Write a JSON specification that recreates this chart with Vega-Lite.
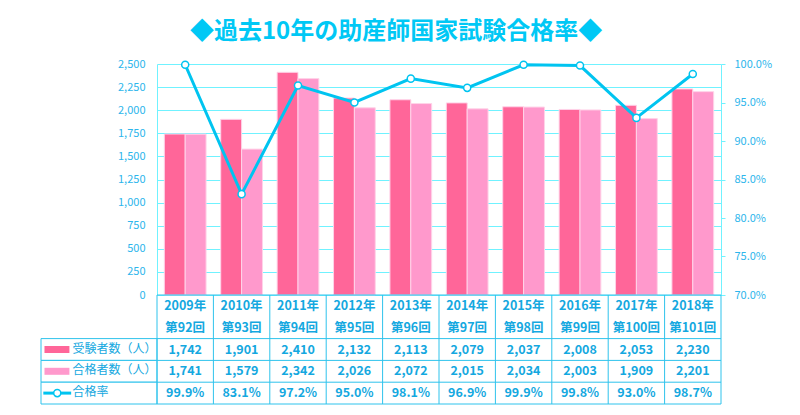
{
  "$schema": "https://vega.github.io/schema/vega-lite/v6.json",
  "background": "white",
  "padding": {"left": 40, "top": 20, "right": 5, "bottom": 5},
  "config": {
    "view": {"stroke": null},
    "font": "Noto Sans CJK JP",
    "axis": {"labelFont": "Noto Sans CJK JP"}
  },
  "datasets": {
    "years": [
      {"year": "2009年", "kai": "第92回", "rate": 0.999},
      {"year": "2010年", "kai": "第93回", "rate": 0.831},
      {"year": "2011年", "kai": "第94回", "rate": 0.972},
      {"year": "2012年", "kai": "第95回", "rate": 0.950},
      {"year": "2013年", "kai": "第96回", "rate": 0.981},
      {"year": "2014年", "kai": "第97回", "rate": 0.969},
      {"year": "2015年", "kai": "第98回", "rate": 0.999},
      {"year": "2016年", "kai": "第99回", "rate": 0.998},
      {"year": "2017年", "kai": "第100回", "rate": 0.930},
      {"year": "2018年", "kai": "第101回", "rate": 0.987}
    ],
    "counts": [
      {"year": "2009年", "series": "受験者数（人）", "value": 1742},
      {"year": "2009年", "series": "合格者数（人）", "value": 1741},
      {"year": "2010年", "series": "受験者数（人）", "value": 1901},
      {"year": "2010年", "series": "合格者数（人）", "value": 1579},
      {"year": "2011年", "series": "受験者数（人）", "value": 2410},
      {"year": "2011年", "series": "合格者数（人）", "value": 2342},
      {"year": "2012年", "series": "受験者数（人）", "value": 2132},
      {"year": "2012年", "series": "合格者数（人）", "value": 2026},
      {"year": "2013年", "series": "受験者数（人）", "value": 2113},
      {"year": "2013年", "series": "合格者数（人）", "value": 2072},
      {"year": "2014年", "series": "受験者数（人）", "value": 2079},
      {"year": "2014年", "series": "合格者数（人）", "value": 2015},
      {"year": "2015年", "series": "受験者数（人）", "value": 2037},
      {"year": "2015年", "series": "合格者数（人）", "value": 2034},
      {"year": "2016年", "series": "受験者数（人）", "value": 2008},
      {"year": "2016年", "series": "合格者数（人）", "value": 2003},
      {"year": "2017年", "series": "受験者数（人）", "value": 2053},
      {"year": "2017年", "series": "合格者数（人）", "value": 1909},
      {"year": "2018年", "series": "受験者数（人）", "value": 2230},
      {"year": "2018年", "series": "合格者数（人）", "value": 2201}
    ],
    "rows": [
      {"row": "受験者数（人）"},
      {"row": "合格者数（人）"},
      {"row": "合格率"}
    ]
  },
  "title": {
    "text": "◆過去10年の助産師国家試験合格率◆",
    "fontSize": 24,
    "fontWeight": "bold",
    "color": "#00C8F5",
    "anchor": "middle",
    "offset": 14,
    "dx": -10
  },
  "bounds": "flush",
  "spacing": 0,
  "columns": 2,
  "concat": [
    {
      "width": 116,
      "height": 231,
      "data": {"name": "rows"},
      "mark": {"type": "point", "opacity": 0},
      "encoding": {}
    },
    {
      "width": 564,
      "height": 231,
      "resolve": {"scale": {"y": "independent"}},
      "layer": [
        {
          "data": {"name": "counts"},
          "mark": {"type": "bar", "stroke": "#FFD3E8", "strokeWidth": 1},
          "encoding": {
            "x": {
              "field": "year", "type": "nominal", "sort": null,
              "scale": {"type": "band", "paddingInner": 0.26, "paddingOuter": 0.13},
              "axis": null
            },
            "xOffset": {
              "field": "series", "type": "nominal",
              "scale": {"domain": ["受験者数（人）", "合格者数（人）"], "paddingInner": 0, "paddingOuter": 0}
            },
            "y": {
              "field": "value", "type": "quantitative",
              "scale": {"domain": [0, 2500], "nice": false},
              "axis": {
                "values": [0, 250, 500, 750, 1000, 1250, 1500, 1750, 2000, 2250, 2500],
                "format": ",.0f",
                "grid": true,
                "gridColor": "#70F2FF",
                "gridWidth": 1,
                "ticks": false,
                "domain": true,
                "domainColor": "#70F2FF",
                "labelColor": "#2DB6EC",
                "labelFontSize": 11,
                "labelPadding": 12,
                "title": null
              }
            },
            "color": {
              "field": "series", "type": "nominal",
              "scale": {"domain": ["受験者数（人）", "合格者数（人）"], "range": ["#FF6699", "#FF99CC"]},
              "legend": null
            }
          }
        },
        {
          "data": {"name": "years"},
          "mark": {
            "type": "line",
            "color": "#00C4F0",
            "strokeWidth": 3,
            "point": {"filled": true, "fill": "white", "stroke": "#00C4F0", "strokeWidth": 1.5, "size": 50}
          },
          "encoding": {
            "x": {"field": "year", "type": "nominal", "sort": null},
            "y": {
              "field": "rate", "type": "quantitative",
              "scale": {"domain": [0.7, 1.0], "nice": false, "zero": false},
              "axis": {
                "orient": "right",
                "values": [0.7, 0.75, 0.8, 0.85, 0.9, 0.95, 1.0],
                "format": ".1%",
                "grid": false,
                "ticks": true,
                "tickSize": 4,
                "tickColor": "#70F2FF",
                "domain": true,
                "domainColor": "#70F2FF",
                "labelColor": "#2DB6EC",
                "labelFontSize": 11,
                "labelPadding": 9,
                "title": null
              }
            }
          }
        }
      ]
    },
    {
      "width": 116,
      "height": 109,
      "layer": [
        {
          "data": {"name": "rows"},
          "mark": {"type": "rect", "fill": "white", "stroke": "#2EC3EC", "strokeWidth": 1},
          "encoding": {
            "x": {"datum": 0, "type": "quantitative", "scale": {"domain": [0, 1]}, "axis": null},
            "x2": {"datum": 1},
            "y": {
              "field": "row", "type": "nominal",
              "scale": {"type": "band", "domain": ["h1", "h2", "受験者数（人）", "合格者数（人）", "合格率"], "paddingInner": 0, "paddingOuter": 0},
              "axis": null
            }
          }
        },
        {
          "data": {"name": "rows"},
          "transform": [{"filter": "datum.row === '受験者数（人）'"}],
          "mark": {"type": "rule", "color": "#FF6699", "strokeWidth": 7},
          "encoding": {
            "x": {"datum": 0.03, "type": "quantitative"},
            "x2": {"datum": 0.245},
            "y": {"field": "row", "type": "nominal"}
          }
        },
        {
          "data": {"name": "rows"},
          "transform": [{"filter": "datum.row === '合格者数（人）'"}],
          "mark": {"type": "rule", "color": "#FF99CC", "strokeWidth": 7},
          "encoding": {
            "x": {"datum": 0.03, "type": "quantitative"},
            "x2": {"datum": 0.245},
            "y": {"field": "row", "type": "nominal"}
          }
        },
        {
          "data": {"name": "rows"},
          "transform": [{"filter": "datum.row === '合格率'"}],
          "mark": {"type": "rule", "color": "#00C4F0", "strokeWidth": 3},
          "encoding": {
            "x": {"datum": 0.02, "type": "quantitative"},
            "x2": {"datum": 0.26},
            "y": {"field": "row", "type": "nominal"}
          }
        },
        {
          "data": {"name": "rows"},
          "transform": [{"filter": "datum.row === '合格率'"}],
          "mark": {"type": "point", "shape": "circle", "filled": true, "fill": "white", "stroke": "#00C4F0", "strokeWidth": 1.5, "size": 50, "opacity": 1},
          "encoding": {
            "x": {"datum": 0.14, "type": "quantitative"},
            "y": {"field": "row", "type": "nominal"}
          }
        },
        {
          "data": {"name": "rows"},
          "mark": {"type": "text", "align": "left", "baseline": "middle", "fontSize": 12, "color": "#14A8E0", "dy": -1},
          "encoding": {
            "x": {"datum": 0.272, "type": "quantitative"},
            "y": {"field": "row", "type": "nominal"},
            "text": {"field": "row"}
          }
        }
      ]
    },
    {
      "width": 564,
      "height": 109,
      "layer": [
        {
          "data": {"name": "years"},
          "mark": {"type": "rule", "color": "#2EC3EC", "strokeWidth": 1},
          "encoding": {
            "x": {
              "field": "year", "type": "nominal", "sort": null, "bandPosition": 0,
              "scale": {"type": "band", "paddingInner": 0, "paddingOuter": 0},
              "axis": null
            }
          }
        },
        {
          "data": {"name": "years"},
          "transform": [{"filter": "datum.year === '2018年'"}],
          "mark": {"type": "rule", "color": "#2EC3EC", "strokeWidth": 1},
          "encoding": {
            "x": {"field": "year", "type": "nominal", "sort": null, "bandPosition": 1}
          }
        },
        {
          "data": {"name": "rows"},
          "mark": {"type": "rule", "color": "#2EC3EC", "strokeWidth": 1},
          "encoding": {
            "y": {
              "field": "row", "type": "nominal", "bandPosition": 0,
              "scale": {"type": "band", "domain": ["h1", "h2", "受験者数（人）", "合格者数（人）", "合格率"], "paddingInner": 0, "paddingOuter": 0},
              "axis": null
            }
          }
        },
        {
          "data": {"name": "rows"},
          "transform": [{"filter": "datum.row === '合格率'"}],
          "mark": {"type": "rule", "color": "#2EC3EC", "strokeWidth": 1},
          "encoding": {
            "y": {"field": "row", "type": "nominal", "bandPosition": 1}
          }
        },
        {
          "data": {"name": "rows"},
          "transform": [{"filter": "datum.row === '合格率'"}],
          "mark": {"type": "rule", "color": "#2EC3EC", "strokeWidth": 1},
          "encoding": {
            "y": {"datum": "h1", "type": "nominal", "bandPosition": 0}
          }
        },
        {
          "data": {"name": "years"},
          "mark": {"type": "text", "baseline": "middle", "fontSize": 12.5, "fontWeight": "bold", "color": "#14A8E0"},
          "encoding": {
            "x": {"field": "year", "type": "nominal", "sort": null},
            "y": {"datum": "h1", "type": "nominal"},
            "text": {"field": "year"}
          }
        },
        {
          "data": {"name": "years"},
          "mark": {"type": "text", "baseline": "middle", "fontSize": 12.5, "fontWeight": "bold", "color": "#14A8E0"},
          "encoding": {
            "x": {"field": "year", "type": "nominal", "sort": null},
            "y": {"datum": "h2", "type": "nominal"},
            "text": {"field": "kai"}
          }
        },
        {
          "data": {"name": "counts"},
          "mark": {"type": "text", "baseline": "middle", "fontSize": 12.5, "fontWeight": "bold", "color": "#14A8E0"},
          "encoding": {
            "x": {"field": "year", "type": "nominal", "sort": null},
            "y": {"field": "series", "type": "nominal"},
            "text": {"field": "value", "type": "quantitative", "format": ","}
          }
        },
        {
          "data": {"name": "years"},
          "mark": {"type": "text", "baseline": "middle", "fontSize": 12.5, "fontWeight": "bold", "color": "#14A8E0"},
          "encoding": {
            "x": {"field": "year", "type": "nominal", "sort": null},
            "y": {"datum": "合格率", "type": "nominal"},
            "text": {"field": "rate", "type": "quantitative", "format": ".1%"}
          }
        }
      ]
    }
  ]
}
